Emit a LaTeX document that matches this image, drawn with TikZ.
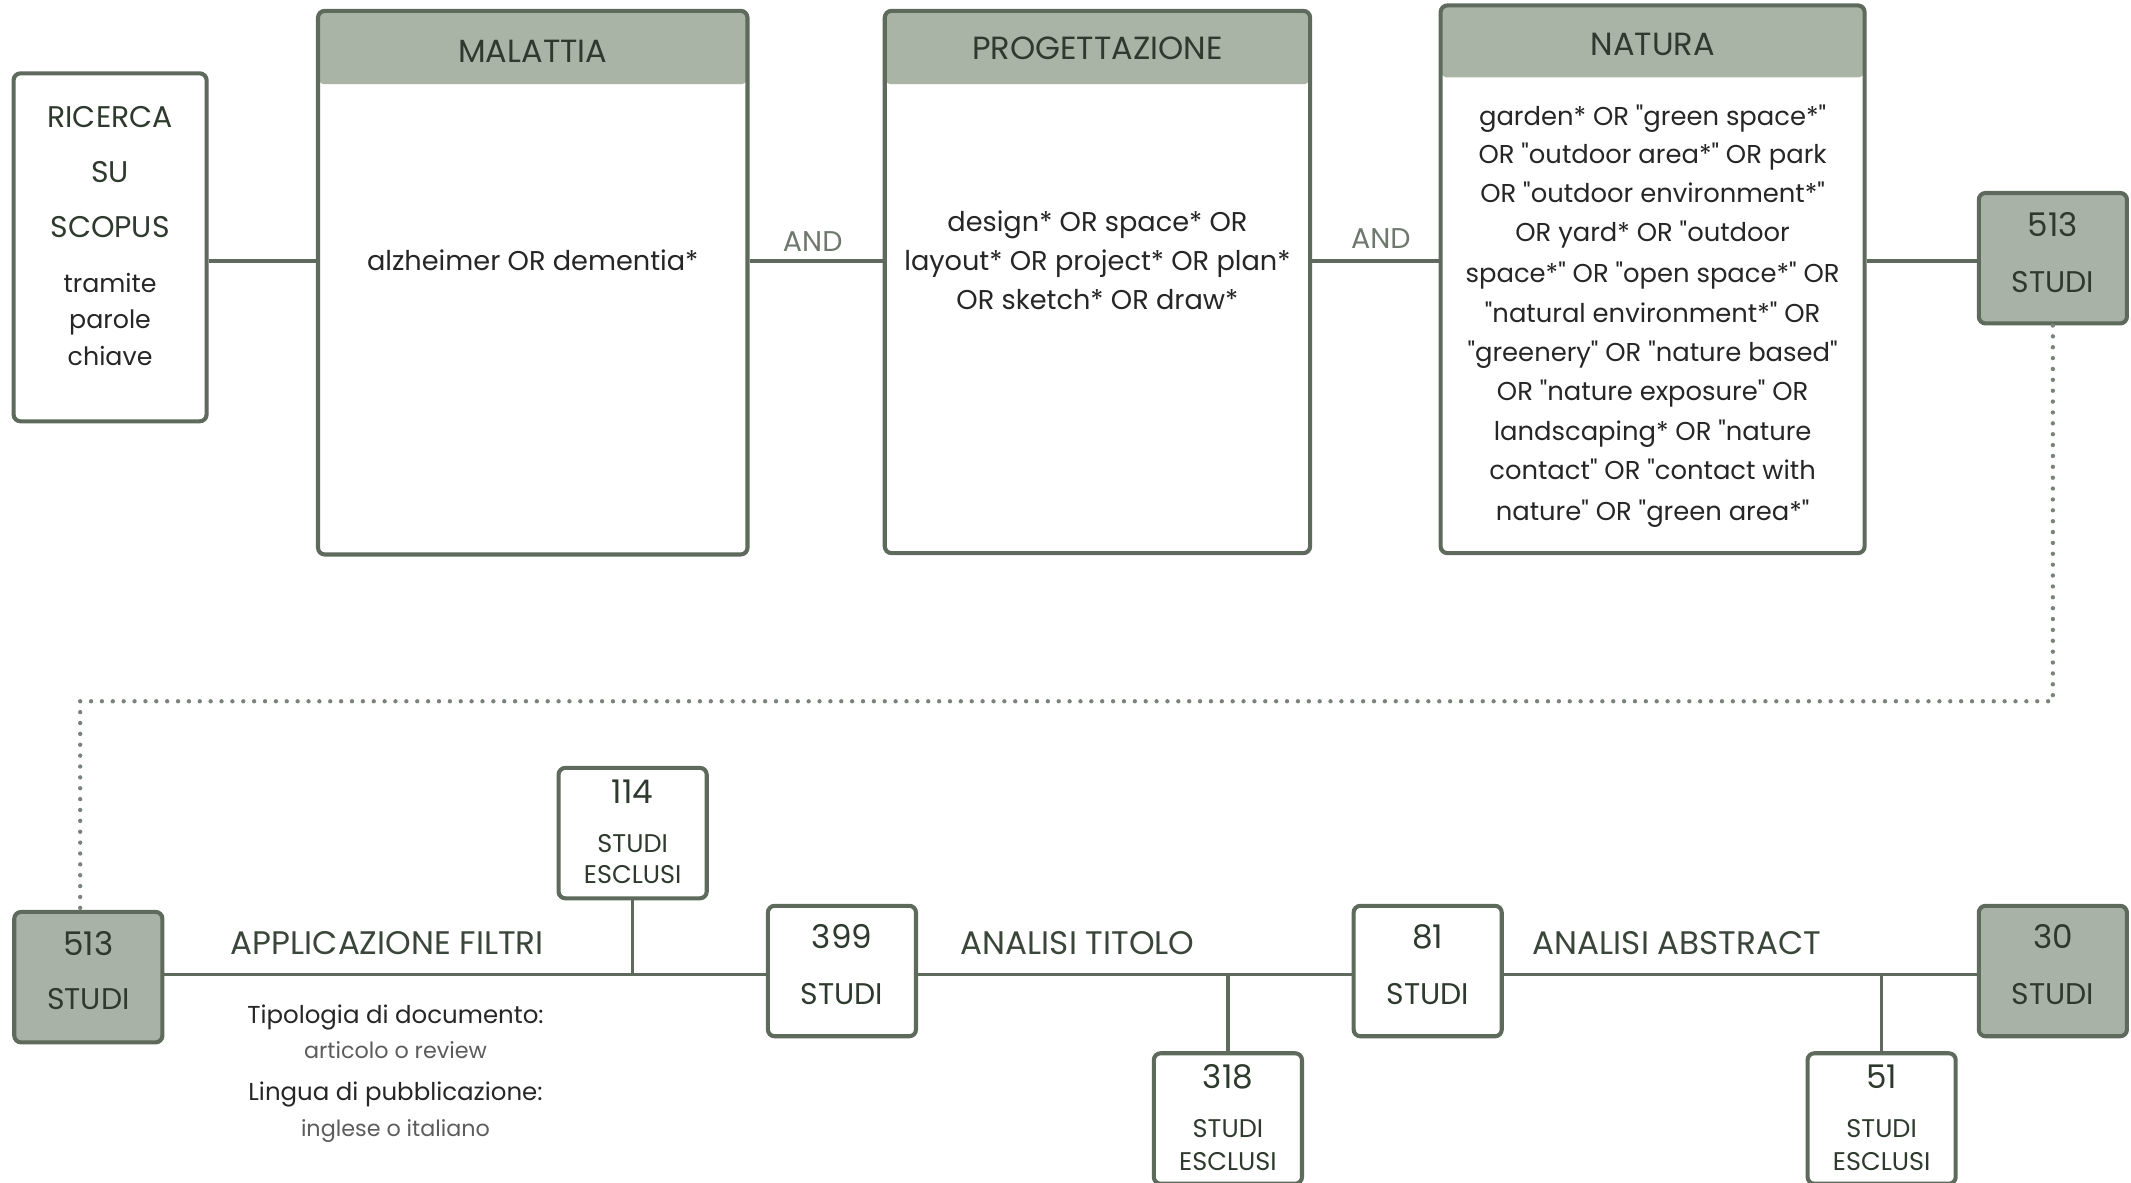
\documentclass[tikz,border=0pt]{standalone}
\usepackage{fontspec}
\setmainfont{Poppins}[Ligatures=TeXOff]
\definecolor{bord}{HTML}{5E6A5C}
\definecolor{hdr}{HTML}{A9B3A6}
\definecolor{fbox}{HTML}{A9B2A6}
\definecolor{txt}{HTML}{262626}
\definecolor{htxt}{HTML}{2E3A2D}
\definecolor{lbl}{HTML}{3A4639}
\definecolor{andc}{HTML}{6E786D}
\definecolor{dotc}{HTML}{7A8379}
\begin{document}
\begin{tikzpicture}[x=0.5pt,y=-0.5pt,
  box/.style={draw=bord, line width=1.5pt, rounded corners=2.5pt, fill=white, inner sep=0pt},
  filled/.style={box, fill=fbox},
  small/.style={minimum width=54.5pt, minimum height=48pt},
  hdrbox/.style={box, path picture={\fill[hdr] (path picture bounding box.north west) rectangle ([yshift=-#1]path picture bounding box.north east);}},
  conn/.style={draw=bord, line width=1.3pt},
  dotline/.style={draw=dotc, line width=1.6pt, line cap=round, dash pattern=on 0pt off 4pt},
  htext/.style={anchor=base, text=htxt, font=\fontsize{11.8}{13}\selectfont},
  btext/.style={anchor=base, text=txt, font=\fontsize{10}{12}\selectfont},
  nbtext/.style={anchor=base, text=txt, font=\fontsize{9.5}{12}\selectfont},
  rtext/.style={anchor=base, text=txt, font=\fontsize{9.3}{11}\selectfont},
  ntext/.style={anchor=base, text=htxt, font=\fontsize{11}{13}\selectfont},
  numtext/.style={anchor=base, text=htxt, font=\fontsize{12}{14}\selectfont},
  etext/.style={anchor=base, text=htxt, font=\fontsize{9.4}{11}\selectfont},
  ltext/.style={anchor=base, text=lbl, font=\fontsize{12}{14}\selectfont},
  andtext/.style={anchor=base, text=andc, font=\fontsize{10.5}{12}\selectfont},
  ftext/.style={anchor=base, text=txt, font=\fontsize{9}{11}\selectfont},
  fsub/.style={anchor=base, text=txt!75, font=\fontsize{8.2}{10}\selectfont}
]
\useasboundingbox (0,0) rectangle (1568,870);

% top row boxes
\node[box, minimum width=71pt, minimum height=128pt] (ric) at (81,182) {};
\node[hdrbox=27pt, minimum width=158pt, minimum height=200pt] (mal) at (392,208) {};
\node[hdrbox=27pt, minimum width=156.5pt, minimum height=199.5pt] (prog) at (807.5,207.5) {};
\node[hdrbox=26.5pt, minimum width=156pt, minimum height=201.5pt] (nat) at (1216,205.5) {};
\node[filled, small] (sa) at (1510.5,190) {};

\coordinate (top) at (0,192);
\draw[conn] (ric.east |- top) -- (mal.west |- top);
\draw[conn] (mal.east |- top) -- (prog.west |- top);
\draw[conn] (prog.east |- top) -- (nat.west |- top);
\draw[conn] (nat.east |- top) -- (sa.west |- top);

% RICERCA text
\node[ntext] (r1) at (81,94) {RICERCA};
\node[ntext] (r2) at (81,134) {SU};
\node[ntext] (r3) at (81,175) {SCOPUS};
\node[rtext] (r4) at (81,215) {tramite};
\node[rtext] (r5) at (81,242) {parole};
\node[rtext] (r6) at (81,269) {chiave};

% headers
\node[htext] (malh) at (392,46) {MALATTIA};
\node[htext] (progh) at (807.5,44) {PROGETTAZIONE};
\node[htext] (nath) at (1216,41) {NATURA};

% bodies
\node[btext] (malb) at (392,199) {alzheimer OR dementia*};
\node[btext] (pb1) at (807.5,170) {design* OR space* OR};
\node[btext] (pb2) at (807.5,199) {layout* OR project* OR plan*};
\node[btext] (pb3) at (807.5,228) {OR sketch* OR draw*};

\node[nbtext] (nb1) at (1216,92) {garden* OR "green space*"};
\node[nbtext] (nb2) at (1216,120) {OR "outdoor area*" OR park};
\node[nbtext] (nb3) at (1216,149) {OR "outdoor environment*"};
\node[nbtext] (nb4) at (1216,178) {OR yard* OR "outdoor};
\node[nbtext] (nb5) at (1216,208) {space*" OR "open space*" OR};
\node[nbtext] (nb6) at (1216,237) {"natural environment*" OR};
\node[nbtext] (nb7) at (1216,266) {"greenery" OR "nature based"};
\node[nbtext] (nb8) at (1216,295) {OR "nature exposure" OR};
\node[nbtext] (nb9) at (1216,324) {landscaping* OR "nature};
\node[nbtext] (nb10) at (1216,353) {contact" OR "contact with};
\node[nbtext] (nb11) at (1216,383) {nature" OR "green area*"};

\node[andtext] (and1) at (598,185) {AND};
\node[andtext] (and2) at (1016,183) {AND};

\node[numtext] (sa1) at (1510.5,174) {513};
\node[ntext] (sa2) at (1510.5,215) {STUDI};

% bottom row boxes
\node[filled, small] (sb) at (65,719) {};
\node[box, small] (e114) at (465.5,613) {};
\node[box, small] (s399) at (619.5,714.5) {};
\node[box, small] (e318) at (903.5,823) {};
\node[box, small] (s81) at (1050.5,714.5) {};
\node[box, small] (e51) at (1384.5,823) {};
\node[filled, small] (s30) at (1510.5,714.5) {};

% dotted link
\coordinate (d1) at (1510,516);
\coordinate (d2) at (59,516);
\draw[dotline] (sa.south) -- (sa.south |- d1) -- (d2) -- (d2 |- sb.north);

\coordinate (bot) at (0,717);
\draw[conn] (sb.east |- bot) -- (s399.west |- bot);
\draw[conn] (s399.east |- bot) -- (s81.west |- bot);
\draw[conn] (s81.east |- bot) -- (s30.west |- bot);
\draw[conn] (e114.south) -- (e114.south |- bot);
\draw[conn] (e318.north) -- (e318.north |- bot);
\draw[conn] (e51.north) -- (e51.north |- bot);

% box texts
\node[numtext] (sb1) at (65,703) {513};
\node[ntext] (sb2) at (65,743) {STUDI};
\node[numtext] (t399a) at (619.5,698) {399};
\node[ntext] (t399b) at (619.5,739) {STUDI};
\node[numtext] (t81a) at (1050.5,698) {81};
\node[ntext] (t81b) at (1050.5,739) {STUDI};
\node[numtext] (t30a) at (1510.5,698) {30};
\node[ntext] (t30b) at (1510.5,739) {STUDI};

\node[numtext] (t114a) at (465.5,591) {114};
\node[etext] (t114b) at (465.5,627) {STUDI};
\node[etext] (t114c) at (465.5,650) {ESCLUSI};
\node[numtext] (t318a) at (903.5,801) {318};
\node[etext] (t318b) at (903.5,837) {STUDI};
\node[etext] (t318c) at (903.5,861) {ESCLUSI};
\node[numtext] (t51a) at (1384.5,801) {51};
\node[etext] (t51b) at (1384.5,837) {STUDI};
\node[etext] (t51c) at (1384.5,861) {ESCLUSI};

% labels
\node[ltext] (l1) at (285,702) {APPLICAZIONE FILTRI};
\node[ltext] (l2) at (793,702) {ANALISI TITOLO};
\node[ltext] (l3) at (1234,702) {ANALISI ABSTRACT};

\node[ftext] (f1) at (291,753) {Tipologia di documento:};
\node[fsub] (f2) at (291,779) {articolo o review};
\node[ftext] (f3) at (291,810) {Lingua di pubblicazione:};
\node[fsub] (f4) at (291,836) {inglese o italiano};
\end{tikzpicture}
\end{document}
